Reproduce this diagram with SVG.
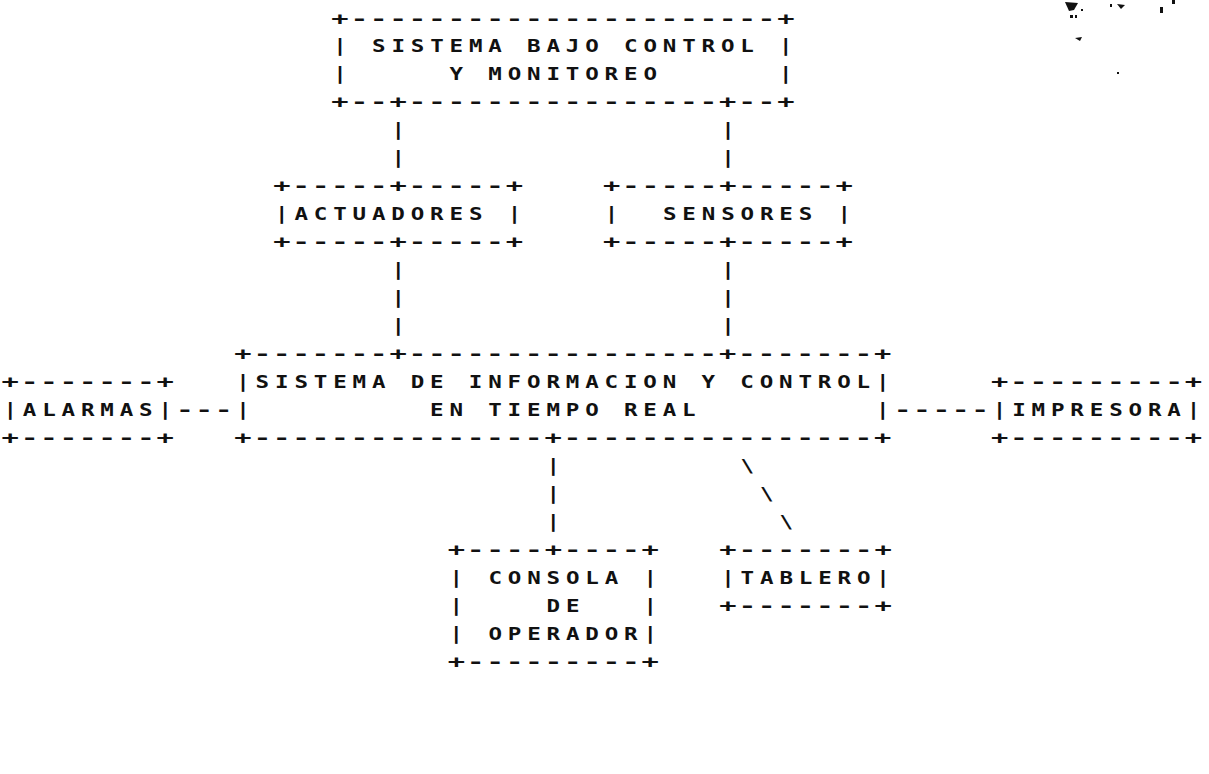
<svg xmlns="http://www.w3.org/2000/svg" width="1209" height="774" viewBox="0 0 1209 774" xml:space="preserve">
<style>
text{font-family:"DejaVu Sans Mono","Liberation Mono",monospace;font-weight:bold;font-size:18px;fill:#111;white-space:pre}
.t{letter-spacing:4.68px}
.b{letter-spacing:1.285px}
</style>
<rect width="1209" height="774" fill="#fff"/>
<g id="noise" fill="#111">
<path d="M1065,2 L1078,3 L1074,10 L1069,11 Z"/>
<rect x="1070" y="15" width="3" height="3"/>
<rect x="1075" y="15" width="2" height="3"/>
<rect x="1081" y="9" width="2" height="2"/>
<rect x="1110" y="4" width="2" height="3"/>
<path d="M1117,4 L1125,5 L1121,9 Z"/>
<rect x="1160" y="7" width="3" height="6"/>
<rect x="1172" y="0" width="3" height="4"/>
<path d="M1075,38 L1082,37 L1080,41 Z"/>
<rect x="1117" y="72" width="2" height="2"/>
</g>
<g id="connectors">
<text class="t" transform="translate(391.42,136.34) scale(1.25,1)">|</text>
<text class="t" transform="translate(721.22,136.34) scale(1.25,1)">|</text>
<text class="t" transform="translate(391.42,164.3) scale(1.25,1)">|</text>
<text class="t" transform="translate(721.22,164.3) scale(1.25,1)">|</text>
<text class="t" transform="translate(391.42,276.14) scale(1.25,1)">|</text>
<text class="t" transform="translate(721.22,276.14) scale(1.25,1)">|</text>
<text class="t" transform="translate(391.42,304.1) scale(1.25,1)">|</text>
<text class="t" transform="translate(721.22,304.1) scale(1.25,1)">|</text>
<text class="t" transform="translate(391.42,332.06) scale(1.25,1)">|</text>
<text class="t" transform="translate(721.22,332.06) scale(1.25,1)">|</text>
<text class="b" transform="translate(176.13,415.94) scale(1.6,1)">---</text>
<text class="b" transform="translate(893.93,415.94) scale(1.6,1)">-----</text>
<text class="t" transform="translate(546.62,471.86) scale(1.25,1)">|</text>
<text class="t" transform="translate(546.62,499.82) scale(1.25,1)">|</text>
<text class="t" transform="translate(546.62,527.78) scale(1.25,1)">|</text>
<text class="t" transform="translate(740.62,471.86) scale(1.25,1)">\</text>
<text class="t" transform="translate(760.02,499.82) scale(1.25,1)">\</text>
<text class="t" transform="translate(779.42,527.78) scale(1.25,1)">\</text>
</g>
<g id="sistema-bajo-control">
<text class="b" transform="translate(331.33,24.5) scale(1.6,1)">+----------------------+</text>
<text class="t" transform="translate(333.22,52.46) scale(1.25,1)">| SISTEMA BAJO CONTROL |</text>
<text class="t" transform="translate(333.22,80.42) scale(1.25,1)">|     Y MONITOREO      |</text>
<text class="b" transform="translate(331.33,108.38) scale(1.6,1)">+--+----------------+--+</text>
</g>
<g id="actuadores">
<text class="b" transform="translate(273.13,192.26) scale(1.6,1)">+-----+-----+</text>
<text class="t" transform="translate(275.02,220.22) scale(1.25,1)">|ACTUADORES |</text>
<text class="b" transform="translate(273.13,248.18) scale(1.6,1)">+-----+-----+</text>
</g>
<g id="sensores">
<text class="b" transform="translate(602.93,192.26) scale(1.6,1)">+-----+-----+</text>
<text class="t" transform="translate(604.82,220.22) scale(1.25,1)">|  SENSORES |</text>
<text class="b" transform="translate(602.93,248.18) scale(1.6,1)">+-----+-----+</text>
</g>
<g id="sistema-informacion">
<text class="b" transform="translate(234.33,360.02) scale(1.6,1)">+-------+----------------+-------+</text>
<text class="t" transform="translate(236.22,387.98) scale(1.25,1)">|SISTEMA DE INFORMACION Y CONTROL|</text>
<text class="t" transform="translate(236.22,415.94) scale(1.25,1)">|         EN TIEMPO REAL         |</text>
<text class="b" transform="translate(234.33,443.9) scale(1.6,1)">+---------------+----------------+</text>
</g>
<g id="alarmas">
<text class="b" transform="translate(1.53,387.98) scale(1.6,1)">+-------+</text>
<text class="t" transform="translate(3.42,415.94) scale(1.25,1)">|ALARMAS|</text>
<text class="b" transform="translate(1.53,443.9) scale(1.6,1)">+-------+</text>
</g>
<g id="impresora">
<text class="b" transform="translate(990.93,387.98) scale(1.6,1)">+---------+</text>
<text class="t" transform="translate(992.82,415.94) scale(1.25,1)">|IMPRESORA|</text>
<text class="b" transform="translate(990.93,443.9) scale(1.6,1)">+---------+</text>
</g>
<g id="consola">
<text class="b" transform="translate(447.73,555.74) scale(1.6,1)">+----+----+</text>
<text class="t" transform="translate(449.62,583.7) scale(1.25,1)">| CONSOLA |</text>
<text class="t" transform="translate(449.62,611.66) scale(1.25,1)">|    DE   |</text>
<text class="t" transform="translate(449.62,639.62) scale(1.25,1)">| OPERADOR|</text>
<text class="b" transform="translate(447.73,667.58) scale(1.6,1)">+---------+</text>
</g>
<g id="tablero">
<text class="b" transform="translate(719.33,555.74) scale(1.6,1)">+-------+</text>
<text class="t" transform="translate(721.22,583.7) scale(1.25,1)">|TABLERO|</text>
<text class="b" transform="translate(719.33,611.66) scale(1.6,1)">+-------+</text>
</g>
</svg>
